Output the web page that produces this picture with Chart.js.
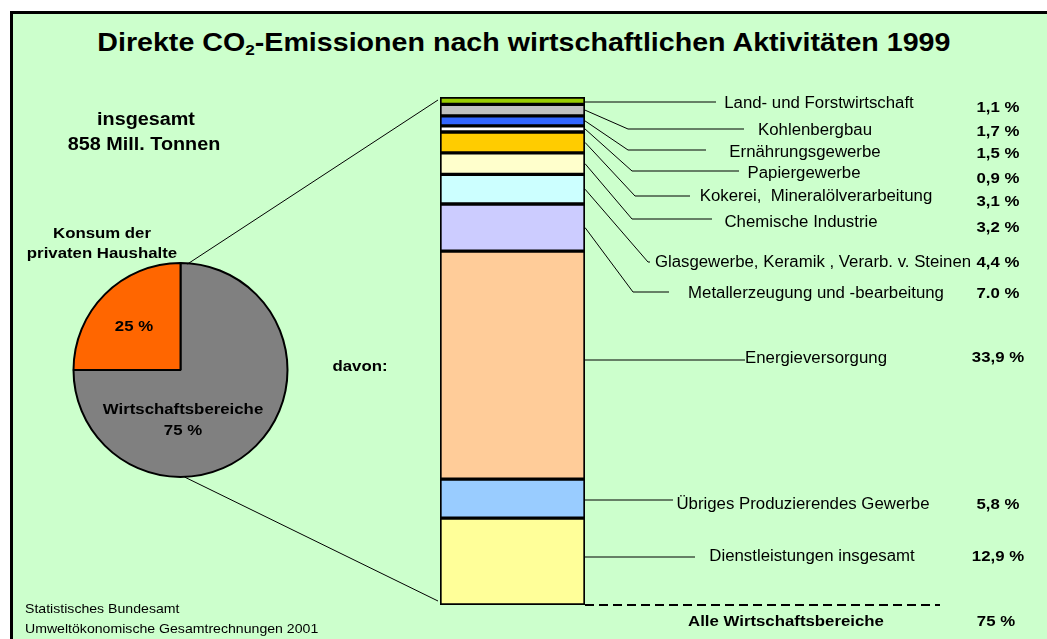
<!DOCTYPE html>
<html>
<head>
<meta charset="utf-8">
<script src="https://cdn.jsdelivr.net/npm/chart.js@4.4.1/dist/chart.umd.min.js"></script>
<style>
  html, body { margin: 0; padding: 0; width: 1047px; height: 639px; overflow: hidden; background: #fff; }
  #frame { position: absolute; left: 10px; top: 11px; width: 1100px; height: 700px; background: #ccffcc; border: 3px solid #000; }
  #title { position: absolute; left: 0; top: 28px; width: 1047px; text-align: center; font: bold 25px "Liberation Sans", Arial, sans-serif; line-height: 28px; transform: scaleX(1.145); transform-origin: 521px 0; color: #000; }
  #title sub { font-size: 15px; vertical-align: -4px; line-height: 0; }
  canvas { position: absolute; left: 0; top: 0; }
</style>
</head>
<body>
<div id="frame"></div>
<div id="title">Direkte CO<sub>2</sub>-Emissionen nach wirtschaftlichen Aktivitäten 1999</div>
<canvas id="pie" width="1047" height="639"></canvas>
<canvas id="bar" width="1047" height="639"></canvas>
<script>
// pie: total emissions split
const pieLabels = ['Wirtschaftsbereiche', 'Konsum der privaten Haushalte'];
const pieValues = [75, 25];
const pieColors = ['#808080', '#ff6600'];

// stacked bar, top to bottom
const sectors = [
  'Land- und Forstwirtschaft',
  'Kohlenbergbau',
  'Ernährungsgewerbe',
  'Papiergewerbe',
  'Kokerei,  Mineralölverarbeitung',
  'Chemische Industrie',
  'Glasgewerbe, Keramik , Verarb. v. Steinen',
  'Metallerzeugung und -bearbeitung',
  'Energieversorgung',
  'Übriges Produzierendes Gewerbe',
  'Dienstleistungen insgesamt'
];
const shares = [1.1, 1.7, 1.5, 0.9, 3.1, 3.2, 4.4, 7.0, 33.9, 5.8, 12.9];
const shareLabels = ['1,1 %', '1,7 %', '1,5 %', '0,9 %', '3,1 %', '3,2 %', '4,4 %', '7.0 %', '33,9 %', '5,8 %', '12,9 %'];
const sectorColors = ['#99cc00', '#c0c0c0', '#3366ff', '#ffffff', '#ffcc00', '#ffffcc',
  '#ccffff', '#ccccff', '#ffcc99', '#99ccff', '#ffff99'];

// label placement (centre x, baseline y) and leader elbows
const labelX = [819, 815, 805, 804, 816, 801, 813, 816, 816, 803, 812];
const labelY = [108, 135, 157, 178, 201, 227, 267, 298, 363, 509, 561];
const pctY = [112, 136, 158, 183, 206, 232, 267, 298, 362, 509, 561];
const elbowX = [null, 628, 628, 632, 635, 632, 648, 633, null, null, null];
const elbowY = [102, 129, 150, 171, 196, 219, 262, 292, 360, 500, 557];
const leaderEnd = [716, 744, 706, 739, 690, 712, 650, 669, 745, 673, 695];

const FONT = '"Liberation Sans", Arial, sans-serif';

function txt(ctx, s, x, y, font, align, sx) {
  ctx.save();
  ctx.font = font;
  ctx.fillStyle = '#000';
  ctx.textAlign = align || 'center';
  ctx.textBaseline = 'alphabetic';
  ctx.translate(x, y);
  ctx.scale(sx || 1.12, 1);
  ctx.fillText(s, 0, 0);
  ctx.restore();
}

const pieText = {
  id: 'pieText',
  afterDraw(chart) {
    const ctx = chart.ctx;
    txt(ctx, 'insgesamt', 146, 125, 'bold 18px ' + FONT, 'center', 1.1);
    txt(ctx, '858 Mill. Tonnen', 144, 150, 'bold 18px ' + FONT, 'center', 1.1);
    txt(ctx, 'Konsum der', 102, 238, 'bold 15px ' + FONT);
    txt(ctx, 'privaten Haushalte', 102, 258, 'bold 15px ' + FONT);
    txt(ctx, pieValues[1] + ' %', 134, 331, 'bold 15px ' + FONT);
    txt(ctx, pieLabels[0], 183, 414, 'bold 15px ' + FONT);
    txt(ctx, pieValues[0] + ' %', 183, 435, 'bold 15px ' + FONT);
    txt(ctx, 'Statistisches Bundesamt', 25, 613, '12.6px ' + FONT, 'left');
    txt(ctx, 'Umweltökonomische Gesamtrechnungen 2001', 25, 633, '12.6px ' + FONT, 'left');
  }
};

const pieChart = new Chart(document.getElementById('pie'), {
  type: 'pie',
  data: {
    labels: pieLabels,
    datasets: [{
      data: pieValues,
      backgroundColor: pieColors,
      borderColor: '#000',
      borderWidth: 2
    }]
  },
  options: {
    responsive: false,
    animation: false,
    radius: 107,
    layout: { padding: { left: 73, right: 759, top: 262, bottom: 161 } },
    plugins: { legend: { display: false }, tooltip: { enabled: false } }
  },
  plugins: [pieText]
});

const barText = {
  id: 'barText',
  afterDraw(chart) {
    const ctx = chart.ctx;
    const area = chart.chartArea;
    ctx.save();
    ctx.strokeStyle = '#000';
    ctx.lineWidth = 1;

    // leader lines from each segment
    sectors.forEach((name, i) => {
      const el = chart.getDatasetMeta(i).data[0];
      const right = el.x + el.width / 2;
      const mid = (el.y + el.base) / 2;
      ctx.beginPath();
      if (elbowX[i] === null) {
        ctx.moveTo(right, elbowY[i]);
      } else {
        ctx.moveTo(right, mid);
        ctx.lineTo(elbowX[i], elbowY[i]);
      }
      ctx.lineTo(leaderEnd[i], elbowY[i]);
      ctx.stroke();
      txt(ctx, name, labelX[i], labelY[i], '16px ' + FONT, 'center', 1.05);
      txt(ctx, shareLabels[i], 998, pctY[i], 'bold 15px ' + FONT);
    });

    // lines from the pie to the bar
    const arc = pieChart.getDatasetMeta(0).data[0];
    ctx.beginPath();
    ctx.moveTo(arc.x + 7, arc.y - arc.outerRadius + 1);
    ctx.lineTo(area.left - 2, area.top + 3);
    ctx.moveTo(arc.x + 4, arc.y + arc.outerRadius);
    ctx.lineTo(area.left - 2, area.bottom - 4);
    ctx.stroke();

    // dashed total line
    ctx.lineWidth = 2;
    ctx.setLineDash([9, 5]);
    ctx.beginPath();
    ctx.moveTo(area.right, area.bottom);
    ctx.lineTo(940, area.bottom);
    ctx.stroke();
    ctx.restore();

    txt(ctx, 'davon:', 360, 371, 'bold 15px ' + FONT);
    txt(ctx, 'Alle Wirtschaftsbereiche', 786, 626, 'bold 15px ' + FONT);
    txt(ctx, '75 %', 996, 626, 'bold 15px ' + FONT);
  }
};

const total = shares.reduce((a, b) => a + b, 0);

new Chart(document.getElementById('bar'), {
  type: 'bar',
  data: {
    labels: [''],
    datasets: sectors.map((name, i) => ({
      label: name,
      data: [shares[i]],
      backgroundColor: sectorColors[i],
      borderColor: '#000',
      borderWidth: 2,
      borderSkipped: false,
      barPercentage: 1,
      categoryPercentage: 1
    }))
  },
  options: {
    responsive: false,
    animation: false,
    layout: { padding: { left: 440, right: 462, top: 97, bottom: 34 } },
    scales: {
      x: { stacked: true, display: false },
      y: { stacked: true, display: false, reverse: true, min: 0, max: total }
    },
    plugins: { legend: { display: false }, tooltip: { enabled: false } }
  },
  plugins: [barText]
});
</script>
</body>
</html>
